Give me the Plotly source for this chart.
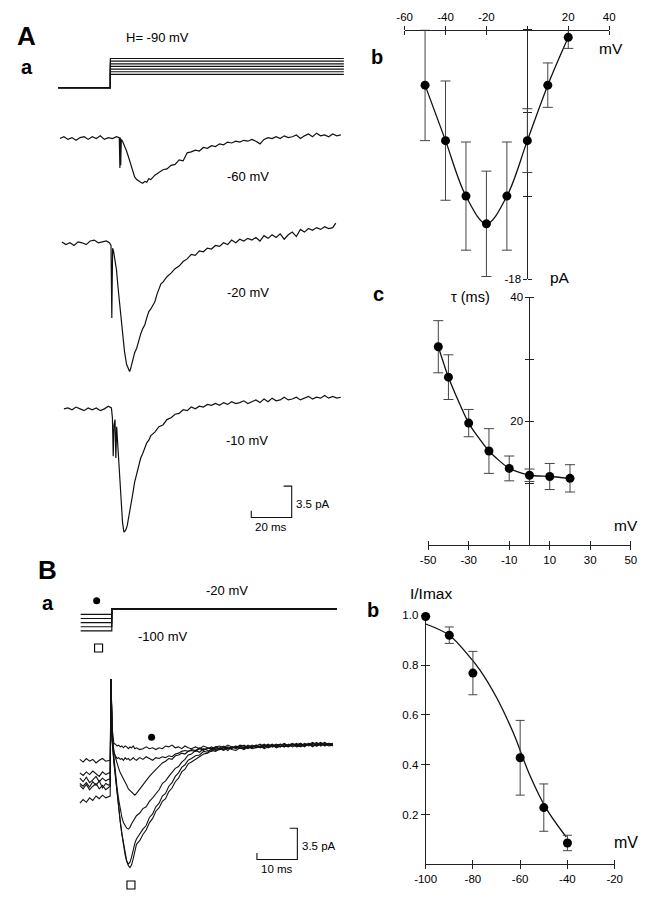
import plotly.graph_objects as go

W, H = 654, 900
FONT = "Liberation Sans, Arial, Helvetica, sans-serif"

# ===================== DATA =====================
# --- A a : voltage protocol (mV) and times (ms)
AA_HOLD_MV = -90
AA_STEP_MV = [-40, -30, -20, -10, 0, 10, 20]
AA_PROTO_T = [-25.8, 0.0, 0.0, 115.5]

# --- A a : current traces (ms, pA relative to baseline)
A60_T = [-25, -23, -21, -19, -17, -15, -13, -11, -9, -7, -5, -3, -1, 1, 3,
         4.4, 4.7, 4.9, 5.1, 5.4,
         6, 7, 8, 9, 10, 11, 12, 13, 14, 15, 16, 17, 18, 19, 20,
         22, 24, 26, 28, 30, 32, 34, 36, 38, 40, 42, 44, 46, 48, 50, 52, 54, 56, 58, 60,
         62, 64, 66, 68, 70, 72, 74, 76, 78, 80, 82, 84, 86, 88, 90, 92, 94, 96, 98, 100,
         102, 104, 106, 108, 110, 112, 114]
A60_I = [0.0, 0.2, -0.1, 0.1, -0.2, 0.1, 0.2, -0.1, 0.2, 0.0, 0.3, -0.1, 0.1, 0.0, 0.2,
         0.1, -3.3, 0.1, -3.0, -0.1,
         -0.3, -0.8, -1.4, -2.1, -2.8, -3.6, -4.3, -4.6, -4.8, -4.9, -5.0, -4.8, -4.9, -4.5, -4.6,
         -4.1, -3.8, -3.5, -3.4, -3.0, -2.9, -2.4, -2.5, -1.6, -1.5, -1.3, -1.4, -1.0, -1.1, -0.8, -0.9, -0.6, -0.7, -0.4, -0.5,
         -0.3, -0.4, -0.2, -0.3, -0.1, -0.3, -0.6, -0.1, 0.1, 0.0, 0.2, 0.0, 0.3, 0.1, 0.2, 0.4, 0.0, 0.3, 0.5, 0.2,
         0.6, 0.3, 0.4, 0.2, 0.5, 0.3, 0.4]

A20_T = [-24, -22, -20, -18, -16, -14, -12, -10, -8, -6, -4, -2,
         -0.5, 0.3, 0.7, 1.1, 1.6,
         3, 4, 5, 6, 7, 8, 9, 9.5,
         10, 11, 12, 13, 14, 15, 16, 17, 18, 19, 20, 21, 22, 23, 24, 25, 26,
         28, 30, 32, 34, 36, 38, 40, 42, 44, 46, 48, 50, 52, 54, 56, 58, 60, 62, 64, 66, 68,
         70, 72, 74, 76, 78, 80, 82, 84, 86, 88, 90, 92, 94, 96, 98, 100, 102, 104, 106, 108, 110,
         111.5]
A20_I = [0.1, -0.2, 0.0, -0.3, 0.1, 0.0, -0.2, 0.2, 0.3, 0.0, 0.1, 0.2,
         0.0, -0.3, -8.4, -0.6, -1.0,
         -3.0, -5.5, -8.0, -10.3, -12.2, -13.6, -14.3, -14.4,
         -14.1, -13.2, -12.3, -11.8, -10.9, -10.2, -9.6, -9.2, -8.4, -7.7, -7.4, -6.9, -6.6, -5.8, -5.2, -4.6, -4.4,
         -3.8, -3.4, -2.9, -2.6, -2.1, -1.8, -1.3, -1.4, -0.9, -1.0, -0.6, -0.7, -0.3, -0.4, 0.0, -0.2, 0.3, 0.0, 0.4, 0.2, 0.5,
         0.3, 0.6, 0.2, 0.8, 0.5, 0.9, 0.6, 1.0, 0.4, 0.9, 1.2, 0.7, 1.5, 1.2, 1.6, 1.4, 1.7, 1.5, 1.8, 1.6, 1.7,
         2.2]

A10_T = [-23, -21, -19, -17, -15, -13, -11, -9, -7, -5, -3, -1,
         0.5, 1.0, 1.4, 1.8, 2.3, 2.7, 3.1,
         4, 5, 6, 6.7, 7.5, 8.3,
         9, 10, 11, 12, 13, 14, 15, 16, 17, 18, 19, 20,
         22, 24, 26, 28, 30, 32, 34, 36, 38, 40, 42, 44, 46, 48, 50, 52, 54, 56, 58, 60,
         62, 64, 66, 68, 70, 72, 74, 76, 78, 80, 82, 84, 86, 88, 90, 92, 94, 96, 98, 100,
         102, 104, 106, 108, 110, 112, 114]
A10_I = [0.0, 0.1, -0.1, 0.2, 0.0, -0.2, 0.1, -0.1, 0.1, -0.2, 0.0, 0.3,
         0.1, -1.0, -5.3, -1.8, -1.2, -5.5, -2.0,
         -5.0, -9.5, -12.7, -13.8, -13.6, -13.1,
         -12.3, -11.1, -9.6, -8.2, -7.2, -6.5, -5.5, -5.0, -4.3, -3.8, -3.5, -3.0,
         -2.6, -2.0, -1.8, -1.2, -1.0, -0.6, -0.5, -0.1, -0.2, 0.2, 0.0, 0.3, 0.2, 0.5, 0.4, 0.6, 0.4, 0.7, 0.5, 0.8,
         0.6, 0.7, 0.9, 0.6, 0.8, 1.0, 0.7, 1.1, 0.8, 1.2, 0.9, 1.0, 1.3, 1.0, 1.1, 1.3, 1.0, 1.2, 1.4, 1.1,
         1.3, 1.2, 1.5, 1.2, 1.4, 1.2, 1.3]
A_TRACE_LABELS = ["-60 mV", "-20 mV", "-10 mV"]

# --- scale bars
SCALE_A_MS, SCALE_A_PA = 20, 3.5
SCALE_B_MS, SCALE_B_PA = 10, 3.5

# --- A b : I-V relation
IV_MV = [-50, -40, -30, -20, -10, 0, 10, 20]
IV_PA = [-4.0, -8.0, -12.0, -14.0, -12.0, -8.0, -4.0, -0.55]
IV_ERR = [4.0, 4.3, 3.9, 3.8, 3.9, 2.3, 1.6, 0.8]
IV_XTICKS = [-60, -40, -20, 0, 20, 40]
IV_XTICKTEXT = ["-60", "-40", "-20", "", "20", "40"]
IV_YTICKS = [0, -6, -12, -18]
IV_YTICKTEXT = ["", "", "", "-18"]

# --- A c : decay time constant
TAU_MV = [-45, -40, -30, -20, -10, 0, 10, 20]
TAU_MS = [32.0, 27.1, 19.7, 15.2, 12.4, 11.3, 11.1, 10.8]
TAU_ERR = [4.2, 3.6, 2.2, 3.6, 2.0, 1.0, 2.1, 2.2]
TAU_XTICKS = [-50, -30, -10, 10, 30, 50]
TAU_XTICKTEXT = ["-50", "-30", "-10", "10", "30", "50"]
TAU_YTICKS = [10, 20, 30, 40]
TAU_YTICKTEXT = ["", "20", "", "40"]

# --- B a : protocol and traces
BA_PRE_MV = [-100, -85, -70, -55, -40]
BA_TEST_MV = -20
BA_PROTO_T = [-7.4, 0.3, 0.3, 56.0]

BA_T = [-7.6, -6.8, -6.0, -5.2, -4.4, -3.6, -2.8, -2.0, -1.2, -0.4,
        -0.1, 0.1,
        0.4, 0.8, 1.2, 1.6, 2.0, 2.4, 2.8, 3.2, 3.6, 4.0, 4.4, 4.8, 5.2, 5.6, 6.0, 6.4,
        7.2, 8.0, 8.8, 9.6, 10.4, 11.2, 12.0, 12.8, 13.6, 14.4, 15.2, 16.0, 16.8, 17.6, 18.4, 19.2, 20.0,
        21, 22, 23, 24, 25, 26, 27, 28, 29, 30, 31, 32, 33, 34, 35, 36, 37, 38, 39, 40,
        41, 42, 43, 44, 45, 46, 47, 48, 49, 50, 51, 52, 53, 54, 55]
B_100 = [-6.4, -6.0, -6.3, -5.8, -6.1, -5.6, -5.9, -5.5, -5.8, -5.6,
         -5.6, 7.5,
         0.5, -1.8, -3.6, -5.4, -7.0, -8.5, -9.9, -11.1, -12.2, -12.9, -13.4, -13.6, -13.3, -12.6, -11.8, -11.0,
         -10.6, -9.9, -9.4, -8.6, -8.1, -7.3, -6.9, -6.2, -5.9, -5.1, -4.7, -4.0, -3.6, -2.9, -2.6, -2.0, -1.8,
         -1.5, -1.3, -0.9, -0.8, -0.5, -0.6, -0.3, -0.5, -0.2, -0.4, -0.5, -0.2, -0.4, -0.1, -0.3, -0.2, 0.0, -0.3, -0.1, 0.1,
         -0.2, 0.0, -0.1, 0.2, -0.1, 0.1, 0.3, 0.0, 0.2, -0.1, 0.3, 0.1, 0.2, 0.0, 0.1]
B_90 = [-4.4, -4.8, -4.3, -4.9, -4.5, -4.2, -4.8, -4.4, -4.9, -4.6,
        -4.5, 7.5,
        0.6, -1.6, -3.5, -5.3, -7.0, -8.5, -9.8, -11.0, -12.1, -12.9, -13.2, -13.0, -12.4, -11.6, -10.9, -10.4,
        -9.8, -9.3, -8.9, -8.0, -7.6, -6.8, -6.4, -5.6, -5.3, -4.5, -4.1, -3.4, -3.0, -2.4, -2.1, -1.6, -1.4,
        -1.1, -1.0, -0.6, -0.7, -0.3, -0.5, -0.4, -0.1, -0.3, -0.2, 0.0, -0.3, -0.1, -0.3, 0.0, -0.2, -0.1, 0.1, -0.2, 0.0,
        0.2, -0.1, 0.1, 0.0, 0.2, -0.1, 0.0, 0.3, 0.1, 0.3, 0.0, 0.2, 0.4, 0.1, 0.2]
B_80 = [-4.2, -4.5, -4.1, -4.6, -4.0, -4.4, -3.9, -4.7, -4.2, -4.4,
        -4.3, 7.5,
        0.7, -1.4, -3.1, -4.7, -6.0, -7.1, -8.0, -8.6, -9.0, -9.2, -9.3, -9.1, -8.7, -8.4, -8.1, -7.8,
        -7.5, -7.0, -6.8, -6.2, -5.8, -5.3, -4.9, -4.2, -3.9, -3.4, -3.0, -2.5, -2.3, -1.8, -1.5, -1.0, -0.9,
        -0.5, -0.7, -0.3, -0.5, -0.6, -0.2, -0.4, -0.2, -0.5, -0.1, -0.3, -0.1, 0.1, -0.2, -0.1, 0.1, -0.2, 0.0, 0.2, -0.1,
        0.1, 0.2, -0.1, 0.1, 0.3, 0.0, 0.2, -0.1, 0.3, 0.1, 0.0, 0.3, 0.1, 0.3, 0.0]
B_60 = [-3.6, -4.0, -3.5, -4.1, -3.8, -3.4, -4.0, -3.6, -3.9, -3.7,
        -3.8, 7.5,
        1.0, -0.5, -1.3, -2.0, -2.5, -3.0, -3.4, -3.8, -4.1, -4.4, -4.8, -5.0, -5.2, -5.4, -5.5, -5.3,
        -4.8, -4.3, -3.9, -3.4, -3.0, -2.6, -2.3, -1.9, -1.7, -1.4, -1.5, -1.1, -1.0, -0.8, -0.9, -0.6, -0.5,
        -0.6, -0.3, -0.5, -0.2, -0.4, -0.1, -0.3, -0.4, -0.1, -0.3, 0.0, -0.2, -0.3, 0.0, -0.2, 0.1, -0.1, -0.2, 0.1, -0.1,
        0.0, 0.2, 0.0, -0.1, 0.1, 0.3, 0.0, 0.2, 0.0, 0.2, 0.4, 0.0, 0.3, 0.2, 0.3]
B_50 = [-3.0, -3.3, -2.9, -3.2, -2.8, -3.1, -3.4, -2.9, -3.2, -3.0,
        -3.1, 7.5,
        1.5, -0.8, -1.2, -1.4, -1.3, -1.5, -1.4, -1.6, -1.3, -1.5, -1.4, -1.6, -1.5, -1.3, -1.5, -1.6,
        -1.3, -1.5, -1.2, -1.4, -1.6, -1.3, -1.4, -1.2, -1.3, -1.1, -1.2, -0.9, -0.8, -0.6, -0.5, -0.6, -0.4,
        -0.5, -0.2, -0.4, -0.3, -0.1, -0.4, -0.2, 0.0, -0.3, -0.1, -0.2, 0.0, -0.2, 0.1, -0.1, 0.0, 0.2, -0.1, 0.0, 0.2,
        -0.1, 0.1, 0.3, 0.0, 0.1, 0.2, -0.1, 0.1, 0.3, 0.0, 0.2, 0.4, 0.1, 0.2, 0.1]
B_40 = [-1.5, -1.8, -1.4, -1.7, -1.5, -1.9, -1.6, -1.4, -1.7, -1.6,
        -1.6, 7.5,
        2.0, 0.3, 0.2, 0.0, 0.1, -0.1, 0.0, -0.2, 0.0, -0.1, -0.3, -0.1, -0.2, 0.0, -0.3, -0.2,
        -0.4, -0.3, -0.1, -0.3, -0.2, -0.4, -0.2, -0.3, 0.0, -0.1, 0.1, -0.2, -0.1, -0.3, 0.0, -0.2, -0.3,
        -0.1, -0.3, 0.0, -0.2, -0.3, -0.1, 0.0, -0.2, 0.1, -0.1, -0.2, 0.1, 0.0, -0.2, 0.1, -0.1, 0.0, 0.2, -0.1, 0.1,
        0.0, -0.1, 0.2, 0.0, 0.2, 0.1, 0.3, 0.0, 0.2, 0.4, 0.1, 0.3, 0.0, 0.3, 0.2]
BA_TRACES = [B_100, B_90, B_80, B_60, B_50, B_40]

# --- B b : steady-state inactivation
INACT_MV = [-100, -90, -80, -60, -50, -40]
INACT_REL = [0.995, 0.92, 0.768, 0.428, 0.228, 0.086]
INACT_ERR = [0.0, 0.033, 0.087, 0.15, 0.095, 0.031]
INACT_FIT_MV = [-100, -90, -82, -77, -70, -63, -56, -49, -40.5]
INACT_FIT_REL = [0.965, 0.92, 0.84, 0.78, 0.67, 0.53, 0.36, 0.225, 0.11]
INACT_XTICKS = [-100, -80, -60, -40, -20]
INACT_YTICKS = [0.2, 0.4, 0.6, 0.8, 1.0]
INACT_YTICKTEXT = ["0.2", "0.4", "0.6", "0.8", "1.0"]

for _t, _i in [(A60_T, A60_I), (A20_T, A20_I), (A10_T, A10_I)] + [(BA_T, b) for b in BA_TRACES]:
    if len(_t) != len(_i):
        raise ValueError(f"length mismatch {len(_t)} vs {len(_i)}")

# ===================== LAYOUT HELPERS =====================
A_T0_PX, A_PX_PER_MS = 101.5, 41.7 / 20
B_T0_PX, B_PX_PER_MS = 101.7, 41.7 / 10
PX_PER_PA = 31.7 / 3.5


def xdom(p0, p1, origin_px, ppu, origin_val=0.0):
    return ([p0 / W, p1 / W],
            [origin_val + (p0 - origin_px) / ppu, origin_val + (p1 - origin_px) / ppu])


def ydom(top, bot, origin_px, ppu, origin_val=0.0):
    return ([1 - bot / H, 1 - top / H],
            [origin_val - (bot - origin_px) / ppu, origin_val + (origin_px - top) / ppu])


def hidden(dom, rng, anchor):
    return dict(domain=dom, range=rng, anchor=anchor, visible=False,
                showgrid=False, zeroline=False, fixedrange=True)


def shown(dom, rng, tickvals, ticktext, **kw):
    span = abs(rng[1] - rng[0])
    d = dict(domain=dom, range=rng, showline=True, linecolor="#222", linewidth=1,
             ticks="outside", ticklen=4, tickwidth=1, tickcolor="#222",
             tickmode="array", tickvals=tickvals, ticktext=ticktext,
             tickfont=dict(size=11.5, family=FONT, color="black"),
             showgrid=False, zeroline=False, fixedrange=True, layer="below traces",
             minor=dict(ticks="inside", ticklen=4, tickwidth=1, tickcolor="#222",
                        tickmode="array", tickvals=[v + span * 1e-5 for v in tickvals],
                        showgrid=False))
    d.update(kw)
    return d


fig = go.Figure()
LINE = dict(color="#111", width=1.2)

# ---- A a protocol
for v in AA_STEP_MV:
    fig.add_trace(go.Scatter(x=AA_PROTO_T, y=[AA_HOLD_MV, AA_HOLD_MV, v, v], mode="lines",
                             line=LINE, xaxis="x", yaxis="y", hoverinfo="skip"))
# ---- A a traces
for (tt, ii, ya) in [(A60_T, A60_I, "y2"), (A20_T, A20_I, "y3"), (A10_T, A10_I, "y4")]:
    fig.add_trace(go.Scatter(x=tt, y=ii, mode="lines", line=LINE, xaxis="x", yaxis=ya,
                             hoverinfo="skip"))
# scale bar A (placed at t=89.7 ms, -12.15 pA on the -10 mV trace axis)
ca_t, ca_i = 89.7, -12.15
fig.add_trace(go.Scatter(
    x=[ca_t - SCALE_A_MS, ca_t - SCALE_A_MS, ca_t, ca_t, ca_t - SCALE_A_MS * 0.2],
    y=[ca_i + SCALE_A_PA * 0.21, ca_i, ca_i, ca_i + SCALE_A_PA, ca_i + SCALE_A_PA],
    mode="lines", line=dict(color="#111", width=1.1), xaxis="x", yaxis="y4", hoverinfo="skip"))

# ---- A b I-V
fig.add_trace(go.Scatter(x=IV_MV, y=IV_PA, mode="lines", line=dict(color="#111", width=1.3, shape="spline"),
                         xaxis="x2", yaxis="y5", hoverinfo="skip"))
fig.add_trace(go.Scatter(x=IV_MV, y=IV_PA, mode="markers", marker=dict(size=9, color="black"),
                         error_y=dict(type="data", array=IV_ERR, color="#444", thickness=1, width=5),
                         cliponaxis=False, xaxis="x2", yaxis="y5", hoverinfo="skip"))

# ---- A c tau
fig.add_trace(go.Scatter(x=TAU_MV, y=TAU_MS, mode="lines", line=dict(color="#111", width=1.3, shape="spline", smoothing=0.6),
                         xaxis="x3", yaxis="y6", hoverinfo="skip"))
fig.add_trace(go.Scatter(x=TAU_MV, y=TAU_MS, mode="markers", marker=dict(size=9, color="black"),
                         error_y=dict(type="data", array=TAU_ERR, color="#444", thickness=1, width=5),
                         cliponaxis=False, xaxis="x3", yaxis="y6", hoverinfo="skip"))

# ---- B a protocol
for v in BA_PRE_MV:
    fig.add_trace(go.Scatter(x=BA_PROTO_T, y=[v, v, BA_TEST_MV, BA_TEST_MV], mode="lines",
                             line=LINE, xaxis="x4", yaxis="y8", hoverinfo="skip"))
# ---- B a traces
for tr in BA_TRACES:
    fig.add_trace(go.Scatter(x=BA_T, y=tr, mode="lines", line=dict(color="#111", width=1.1),
                             xaxis="x4", yaxis="y7", hoverinfo="skip"))
cb_t, cb_i = 46.2, -12.7
fig.add_trace(go.Scatter(
    x=[cb_t - SCALE_B_MS, cb_t - SCALE_B_MS, cb_t, cb_t, cb_t - SCALE_B_MS * 0.19],
    y=[cb_i + SCALE_B_PA * 0.21, cb_i, cb_i, cb_i + SCALE_B_PA, cb_i + SCALE_B_PA],
    mode="lines", line=dict(color="#111", width=1.1), xaxis="x4", yaxis="y7", hoverinfo="skip"))

# key symbols (filled circle = -40 mV prepulse, open square = -100 mV prepulse)
fig.add_trace(go.Scatter(x=[-3.45], y=[9.7], mode="markers", marker=dict(size=7, color="black"),
                         cliponaxis=False, xaxis="x4", yaxis="y8", hoverinfo="skip"))
fig.add_trace(go.Scatter(x=[-2.97], y=[-162.0], mode="markers",
                         marker=dict(size=8, symbol="square-open", color="black", line=dict(width=1.1)),
                         cliponaxis=False, xaxis="x4", yaxis="y8", hoverinfo="skip"))
fig.add_trace(go.Scatter(x=[10.14], y=[0.99], mode="markers", marker=dict(size=7, color="black"),
                         cliponaxis=False, xaxis="x4", yaxis="y7", hoverinfo="skip"))
fig.add_trace(go.Scatter(x=[5.04], y=[-15.55], mode="markers",
                         marker=dict(size=8, symbol="square-open", color="black", line=dict(width=1.1)),
                         cliponaxis=False, xaxis="x4", yaxis="y7", hoverinfo="skip"))

# ---- B b inactivation
fig.add_trace(go.Scatter(x=INACT_FIT_MV, y=INACT_FIT_REL, mode="lines",
                         line=dict(color="#111", width=1.3, shape="spline"),
                         xaxis="x5", yaxis="y9", hoverinfo="skip"))
fig.add_trace(go.Scatter(x=INACT_MV, y=INACT_REL, mode="markers", marker=dict(size=9, color="black"),
                         error_y=dict(type="data", array=INACT_ERR, color="#444", thickness=1, width=4.5),
                         cliponaxis=False, xaxis="x5", yaxis="y9", hoverinfo="skip"))

# ===================== AXES =====================
ax_dom, ax_rng = xdom(40, 350, A_T0_PX, A_PX_PER_MS)
pa_dom, pa_rng = ydom(45, 92, 82.7, 0.268, AA_HOLD_MV)
y2d, y2r = ydom(95, 195, 134.3, PX_PER_PA)
y3d, y3r = ydom(195, 385, 240.0, PX_PER_PA)
y4d, y4r = ydom(385, 548, 408.3, PX_PER_PA)
bx_dom, bx_rng = xdom(60, 345, B_T0_PX, B_PX_PER_MS)
y7d, y7r = ydom(665, 900, 750.0, PX_PER_PA)
y8d, y8r = ydom(595, 660, 611.0, 0.279, BA_TEST_MV)

layout = dict(
    width=W, height=H, margin=dict(l=0, r=0, t=0, b=0, pad=0), autosize=False,
    paper_bgcolor="white", plot_bgcolor="white", showlegend=False,
    font=dict(family=FONT, color="black"),
    xaxis=hidden(ax_dom, ax_rng, "y"),
    yaxis=hidden(pa_dom, pa_rng, "x"),
    yaxis2=hidden(y2d, y2r, "x"),
    yaxis3=hidden(y3d, y3r, "x"),
    yaxis4=hidden(y4d, y4r, "x"),
    xaxis4=hidden(bx_dom, bx_rng, "y7"),
    yaxis7=hidden(y7d, y7r, "x4"),
    yaxis8=hidden(y8d, y8r, "x4"),
    xaxis2=shown([405 / W, 616 / W], [-60, 40], IV_XTICKS, IV_XTICKTEXT,
                 anchor="free", position=1 - 24 / H, side="top"),
    yaxis5=shown([1 - 277 / H, 1 - 24 / H], [-18, 0], IV_YTICKS, IV_YTICKTEXT,
                 anchor="free", position=531.7 / W, side="left"),
    xaxis3=shown([429.3 / W, 638.3 / W], [-50, 50], TAU_XTICKS, TAU_XTICKTEXT,
                 anchor="free", position=1 - 546.7 / H, side="bottom"),
    yaxis6=shown([1 - 546.7 / H, 1 - 295 / H], [0, 40], TAU_YTICKS, TAU_YTICKTEXT,
                 anchor="free", position=533.7 / W, side="left"),
    xaxis5=shown([426.7 / W, 621.7 / W], [-100, -20], INACT_XTICKS, [str(v) for v in INACT_XTICKS],
                 anchor="y9", side="bottom"),
    yaxis9=shown([1 - 870 / H, 1 - 617.5 / H], [0, 1.0], INACT_YTICKS, INACT_YTICKTEXT,
                 anchor="x5", side="left"),
)


def label(x, y, text, size, bold=False, xanchor="center"):
    return dict(x=x / W, y=1 - y / H, xref="paper", yref="paper",
                text=f"<b>{text}</b>" if bold else text, showarrow=False,
                font=dict(size=size, family=FONT, color="black"),
                xanchor=xanchor, yanchor="middle")


ann = [
    label(15, 30, "A", 26, True), label(15, 62, "a", 20, True),
    label(150, 32, "H= -90 mV", 13),
    label(243, 173, A_TRACE_LABELS[0], 13), label(243, 290, A_TRACE_LABELS[1], 13),
    label(242, 440, A_TRACE_LABELS[2], 13),
    label(291, 505, f"{SCALE_A_PA} pA", 11.5, xanchor="left"),
    label(267, 528, f"{SCALE_A_MS} ms", 11.5),
    label(377, 52, "b", 20, True), label(618, 43, "mV", 15.5), label(565, 275, "pA", 15.5),
    label(378, 292, "c", 20, True), label(473, 295, "τ (ms)", 14.5), label(633, 527, "mV", 15.5),
    label(37, 572, "B", 26, True), label(37, 605, "a", 20, True),
    label(222, 592, f"{BA_TEST_MV} mV", 13), label(155, 639, f"{BA_PRE_MV[0]} mV", 13),
    label(297, 851.7, f"{SCALE_B_PA} pA", 11.5, xanchor="left"),
    label(273.3, 875, f"{SCALE_B_MS} ms", 11.5),
    label(372, 612, "b", 20, True), label(432, 595, "I/Imax", 15.5), label(633, 848, "mV", 16),
]
layout["annotations"] = ann
fig.update_layout(**layout)
fig.write_html("out.html", config={"displayModeBar": False},
               post_script="document.body.style.margin='0';document.body.style.overflow='hidden';")
